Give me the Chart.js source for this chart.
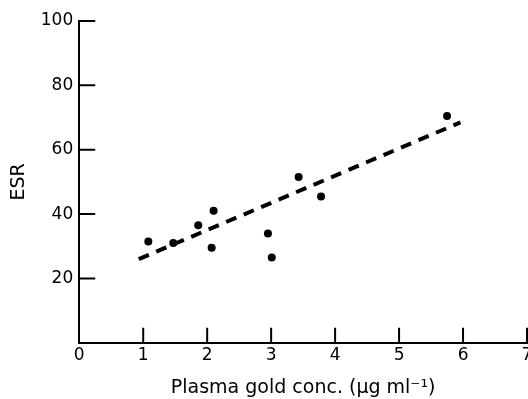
<!DOCTYPE html>
<html>
<head>
<meta charset="utf-8">
<script src="https://cdn.jsdelivr.net/npm/chart.js@4"></script>
<style>
  html, body { margin: 0; padding: 0; background: #fff; overflow: hidden; }
  #wrap { width: 528px; height: 399px; overflow: hidden; }
</style>
</head>
<body>
<div id="wrap"><canvas id="chart" width="531" height="399"></canvas></div>
<script>
// plasma gold concentration (ug/ml) vs ESR
const goldConc = [1.08, 1.47, 1.86, 2.10, 2.07, 2.95, 3.01, 3.43, 3.78, 5.75];
const esr      = [31.5, 31, 36.5, 41, 29.5, 34, 26.5, 51.5, 45.5, 70.5];

// regression line end points
const fitX = [0.93, 5.96];
const fitY = [26, 68.5];

const xTicks = [0, 1, 2, 3, 4, 5, 6, 7];
const yTicks = [20, 40, 60, 80, 100];

const ink = '#000';
const fontFamily = '"DejaVu Sans", sans-serif';

// tick marks point into the plot, like the original figure
const inwardTicks = {
  id: 'inwardTicks',
  afterDraw(chart) {
    const { ctx, chartArea, scales } = chart;
    ctx.save();
    ctx.strokeStyle = ink;
    ctx.lineWidth = 2;
    ctx.beginPath();
    xTicks.forEach(v => {
      if (v === 0) return;
      const px = scales.x.getPixelForValue(v);
      ctx.moveTo(px, chartArea.bottom);
      ctx.lineTo(px, chartArea.bottom - 15);
    });
    yTicks.forEach(v => {
      const py = scales.y.getPixelForValue(v);
      ctx.moveTo(chartArea.left, py);
      ctx.lineTo(chartArea.left + 16, py);
    });
    ctx.stroke();
    ctx.restore();
  }
};

new Chart(document.getElementById('chart'), {
  type: 'scatter',
  data: {
    datasets: [
      {
        label: 'ESR',
        data: goldConc.map((x, i) => ({ x, y: esr[i] })),
        pointRadius: 4,
        pointBackgroundColor: ink,
        pointBorderWidth: 0,
        showLine: false
      },
      {
        label: 'fit',
        data: fitX.map((x, i) => ({ x, y: fitY[i] })),
        showLine: true,
        borderColor: ink,
        borderWidth: 4,
        borderDash: [11, 8],
        pointRadius: 0
      }
    ]
  },
  options: {
    responsive: false,
    animation: false,
    layout: { padding: { top: 21, right: 0, left: 8, bottom: 0 } },
    plugins: { legend: { display: false }, tooltip: { enabled: false } },
    scales: {
      x: {
        type: 'linear',
        min: 0,
        max: 7,
        afterBuildTicks: s => { s.ticks = xTicks.map(v => ({ value: v })); },
        afterFit: s => { s.paddingRight = 0; },
        grid: { display: true, drawOnChartArea: false, drawTicks: false },
        border: { color: ink, width: 2 },
        ticks: {
          color: ink,
          padding: 3,
          maxRotation: 0,
          font: { family: fontFamily, size: 17 }
        },
        title: {
          display: true,
          text: 'Plasma gold conc. (\u03bcg ml\u207b\u00b9)',
          color: ink,
          padding: { top: 7, bottom: 0 },
          font: { family: fontFamily, size: 19 }
        }
      },
      y: {
        type: 'linear',
        min: 0,
        max: 100,
        afterBuildTicks: s => { s.ticks = yTicks.map(v => ({ value: v })); },
        grid: { display: true, drawOnChartArea: false, drawTicks: false },
        border: { color: ink, width: 2 },
        ticks: {
          color: ink,
          padding: 6,
          font: { family: fontFamily, size: 17 }
        },
        title: {
          display: true,
          text: 'ESR',
          color: ink,
          padding: { top: 0, bottom: 4 },
          font: { family: fontFamily, size: 19 }
        }
      }
    }
  },
  plugins: [inwardTicks]
});
</script>
</body>
</html>
